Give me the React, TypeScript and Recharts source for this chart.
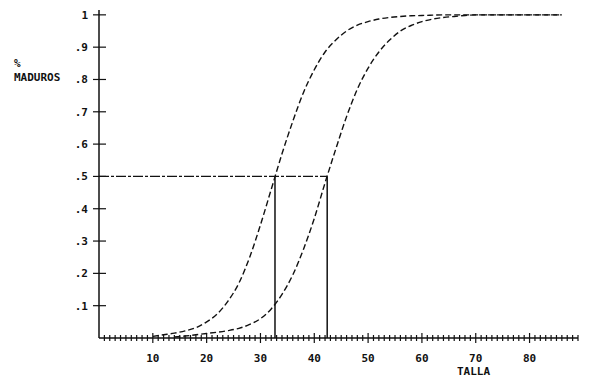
import React from 'react';
import { ComposedChart, Line, XAxis, YAxis, ReferenceLine } from 'recharts';

// talla (length) sampled every 2 units
const talla = [10, 12, 14, 16, 18, 20, 22, 24, 26, 28, 30, 32, 34, 36, 38, 40, 42, 44, 46, 48, 50, 52, 54, 56, 58, 60, 62, 64, 66, 68, 70, 72, 74, 76, 78, 80, 82, 84, 86];

// proportion mature, left curve
const maduros1 = [0.005, 0.01, 0.015, 0.022, 0.032, 0.05, 0.075, 0.115, 0.17, 0.25, 0.35, 0.46, 0.57, 0.67, 0.76, 0.83, 0.885, 0.922, 0.95, 0.968, 0.979, 0.987, 0.992, 0.995, 0.997, 0.998, 0.999, 1, 1, 1, 1, 1, 1, 1, 1, 1, 1, 1, 1];

// proportion mature, right curve
const maduros2 = [null, null, 0.003, 0.006, 0.01, 0.014, 0.018, 0.023, 0.03, 0.042, 0.06, 0.09, 0.135, 0.195, 0.275, 0.37, 0.48, 0.585, 0.685, 0.77, 0.835, 0.885, 0.922, 0.95, 0.967, 0.979, 0.987, 0.992, 0.995, 0.998, 1, 1, 1, 1, 1, 1, 1, 1, 1];

// talla at 50% maturity
const l50 = [32.7, 42.4];

const yTicks = [0.1, 0.2, 0.3, 0.4, 0.5, 0.6, 0.7, 0.8, 0.9, 1];
const yTickLabels = ['.1', '.2', '.3', '.4', '.5', '.6', '.7', '.8', '.9', '1'];
const xTicks = Array.from({ length: 89 }, (_, i) => i + 1);
const xTickLabels = [10, 20, 30, 40, 50, 60, 70, 80];

const data = talla.map((t, i) => ({ talla: t, c1: maduros1[i], c2: maduros2[i] }));

const INK = '#111';
const FONT = '"DejaVu Sans Mono", monospace';

const XTick = (props: any) => {
  const { x, y, payload } = props;
  const major = payload.value % 10 === 0;
  const h = major ? 5 : 3;
  return (
    <g>
      <line x1={x} x2={x} y1={y - h} y2={y + h} stroke={INK} strokeWidth={1.2} />
      {xTickLabels.includes(payload.value) && (
        <text x={x} y={y + 24} textAnchor="middle" fontFamily={FONT} fontWeight="bold" fontSize={11} fill={INK}>
          {payload.value}
        </text>
      )}
    </g>
  );
};

const YTick = (props: any) => {
  const { x, y, payload } = props;
  const idx = yTicks.indexOf(payload.value);
  return (
    <g>
      <line x1={x - 6} x2={x + 7} y1={y} y2={y} stroke={INK} strokeWidth={1.2} />
      <text x={x - 11} y={y + 4} textAnchor="end" fontFamily={FONT} fontWeight="bold" fontSize={11} fill={INK}>
        {yTickLabels[idx]}
      </text>
    </g>
  );
};

const App = () => {
  return (
    <div style={{ position: 'relative', width: 600, height: 392, background: '#fff' }}>
      <style>{'body{margin:0;background:#fff}'}</style>
      <ComposedChart width={600} height={392} data={data} margin={{ top: 10, right: 22, bottom: 0, left: 0 }}>
        <XAxis
          type="number"
          dataKey="talla"
          domain={[0, 89]}
          ticks={xTicks}
          interval={0}
          tick={<XTick />}
          tickLine={false}
          tickSize={0}
          tickMargin={0}
          axisLine={{ stroke: INK, strokeWidth: 1.5 }}
          height={54}
        />
        <YAxis
          type="number"
          domain={[0, 1.015]}
          ticks={yTicks}
          interval={0}
          tick={<YTick />}
          tickLine={false}
          tickSize={0}
          tickMargin={0}
          axisLine={{ stroke: INK, strokeWidth: 1.5 }}
          width={99}
        />
        <ReferenceLine
          segment={[{ x: 0, y: 0.5 }, { x: l50[1], y: 0.5 }]}
          stroke={INK}
          strokeWidth={1.2}
          strokeDasharray="10 2 3 2"
        />
        {l50.map((v) => (
          <ReferenceLine key={v} segment={[{ x: v, y: 0 }, { x: v, y: 0.5 }]} stroke={INK} strokeWidth={1.5} />
        ))}
        <Line
          type="monotone"
          dataKey="c1"
          stroke={INK}
          strokeWidth={1.4}
          strokeDasharray="6 3"
          dot={false}
          isAnimationActive={false}
        />
        <Line
          type="monotone"
          dataKey="c2"
          stroke={INK}
          strokeWidth={1.4}
          strokeDasharray="6 3"
          dot={false}
          isAnimationActive={false}
        />
      </ComposedChart>
      <div style={{ position: 'absolute', left: 14, top: 57, fontFamily: FONT, fontWeight: 'bold', fontSize: 11, color: INK, lineHeight: '14px' }}>
        %<br />MADUROS
      </div>
      <div style={{ position: 'absolute', left: 457, top: 365, fontFamily: FONT, fontWeight: 'bold', fontSize: 11, color: INK }}>
        TALLA
      </div>
    </div>
  );
};

export default App;
